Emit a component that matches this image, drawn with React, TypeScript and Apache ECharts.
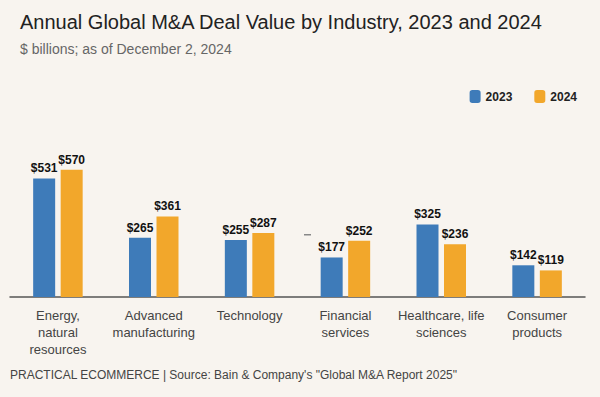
import React, { useEffect, useRef } from "react";
import * as echarts from "echarts";

const categories = [
  "Energy,\nnatural\nresources",
  "Advanced\nmanufacturing",
  "Technology",
  "Financial\nservices",
  "Healthcare, life\nsciences",
  "Consumer\nproducts",
];
const values2023 = [531, 265, 255, 177, 325, 142];
const values2024 = [570, 361, 287, 252, 236, 119];
const seriesNames = ["2023", "2024"];

const FONT = "'Liberation Sans', Arial, Helvetica, sans-serif";

export default function App() {
  const ref = useRef<HTMLDivElement>(null);
  useEffect(() => {
    if (!ref.current) return;
    const chart = echarts.init(ref.current, undefined, { renderer: "svg" });
    const label = {
      show: true,
      position: "top" as const,
      distance: 4,
      formatter: (p: any) => "$" + p.value,
      color: "#111",
      fontFamily: FONT,
      fontWeight: "bold" as const,
      fontSize: 12,
    };
    chart.setOption({
      animation: false,
      backgroundColor: "#f8f4ef",
      title: [
        {
          text: "Annual Global M&A Deal Value by Industry, 2023 and 2024",
          left: 15,
          top: 7,
          textStyle: { fontFamily: FONT, fontSize: 20, fontWeight: "normal", color: "#222" },
        },
        {
          text: "$ billions; as of December 2, 2024",
          left: 15,
          top: 37,
          textStyle: { fontFamily: FONT, fontSize: 14, fontWeight: "normal", color: "#666" },
        },
        {
          text: 'PRACTICAL ECOMMERCE | Source: Bain & Company\'s "Global M&A Report 2025"',
          left: 5,
          top: 364,
          textStyle: { fontFamily: FONT, fontSize: 12, fontWeight: "normal", color: "#444" },
        },
      ],
      legend: {
        data: seriesNames,
        right: 18,
        top: 85,
        itemWidth: 11,
        itemHeight: 13,
        itemGap: 22,
        icon: "roundRect",
        textStyle: { fontFamily: FONT, fontSize: 12, fontWeight: "bold", color: "#222" },
      },
      grid: { left: 10, right: 15, top: 163, bottom: 100, containLabel: false },
      xAxis: {
        type: "category",
        data: categories,
        axisLine: { show: true, lineStyle: { color: "#555", width: 1.5 } },
        axisTick: { show: false },
        axisLabel: {
          interval: 0,
          margin: 10,
          fontFamily: FONT,
          fontSize: 13,
          lineHeight: 17,
          color: "#444",
        },
      },
      yAxis: {
        type: "value",
        min: 0,
        max: 600,
        show: false,
        splitLine: { show: false },
      },
      series: [
        {
          name: seriesNames[0],
          type: "bar",
          data: values2023,
          barWidth: 22,
          barGap: "25%",
          itemStyle: { color: "#3e7bb9" },
          label,
        },
        {
          name: seriesNames[1],
          type: "bar",
          data: values2024,
          barWidth: 22,
          itemStyle: { color: "#f2a72b" },
          label,
        },
      ],
      graphic: [
        {
          type: "rect",
          shape: { x: 304, y: 234, width: 7, height: 1.5 },
          style: { fill: "#888" },
        },
      ],
    });
    return () => chart.dispose();
  }, []);
  return (
    <div
      ref={ref}
      style={{ position: "fixed", left: 0, top: 0, width: 600, height: 397 }}
    />
  );
}
